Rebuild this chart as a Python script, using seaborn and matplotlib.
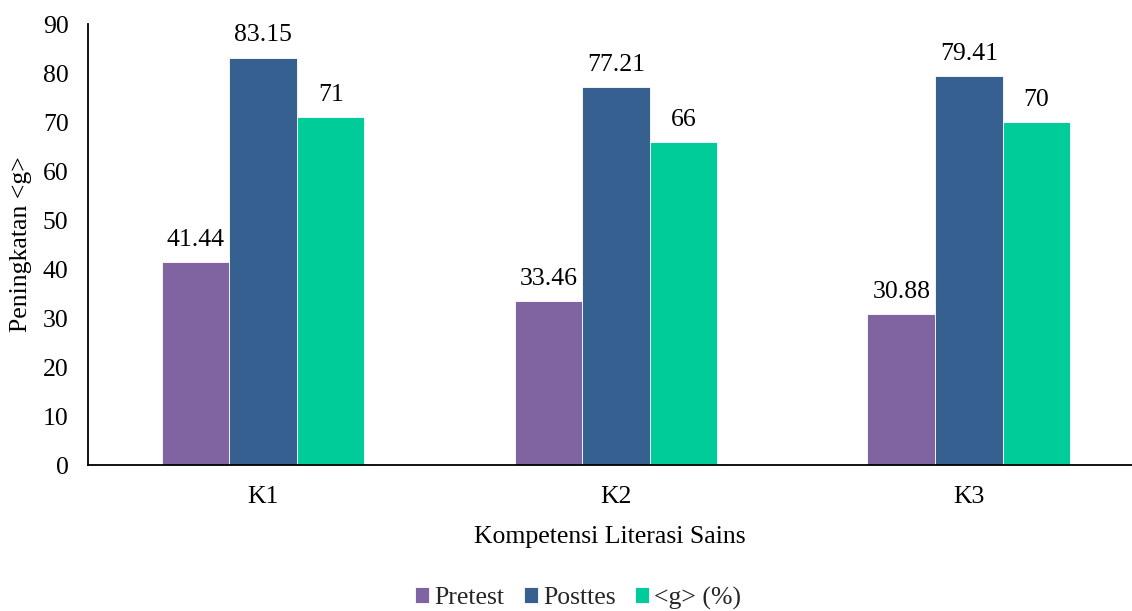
"""Peningkatan kompetensi literasi sains: pretest, posttes and n-gain per competency."""

import matplotlib

matplotlib.use("Agg")
import matplotlib.pyplot as plt
import pandas as pd
import seaborn as sns


CATEGORIES = ["K1", "K2", "K3"]
SERIES = ["Pretest", "Posttes", "<g> (%)"]
PRETEST = [41.44, 33.46, 30.88]
POSTTES = [83.15, 77.21, 79.41]
GAIN = [71, 66, 70]
COLORS = ["#8064A2", "#35608F", "#00CC99"]
LABEL_FMT = ["{:.2f}", "{:.2f}", "{:g}"]

FS = 18.5


def build_frame() -> pd.DataFrame:
    rows = []
    for name, values in zip(SERIES, [PRETEST, POSTTES, GAIN]):
        for cat, val in zip(CATEGORIES, values):
            rows.append({"kompetensi": cat, "seri": name, "nilai": val})
    return pd.DataFrame(rows)


def main() -> None:
    df = build_frame()
    sns.set_theme(style="white")
    plt.rcParams["font.family"] = ["Liberation Serif", "DejaVu Serif"]

    fig = plt.figure(figsize=(11.32, 6.11), dpi=100)
    ax = fig.add_axes([0.0777, 0.2389, 1 - 0.0777, 0.9607 - 0.2389])
    sns.barplot(
        data=df,
        x="kompetensi",
        y="nilai",
        hue="seri",
        order=CATEGORIES,
        hue_order=SERIES,
        palette=COLORS,
        saturation=1,
        width=0.575,
        edgecolor="white",
        linewidth=0.6,
        ax=ax,
    )

    for container, fmt in zip(ax.containers, LABEL_FMT):
        ax.bar_label(
            container,
            labels=[fmt.format(v) for v in container.datavalues],
            padding=8,
            fontsize=FS,
            color="black",
        )

    ax.set_xlim(-0.496, 2.462)
    ax.set_ylim(0, 90)
    ax.set_yticks(range(0, 91, 10))
    ax.tick_params(axis="both", length=0, labelsize=FS, colors="black")
    ax.tick_params(axis="y", pad=14)
    ax.tick_params(axis="x", pad=15)
    ax.set_xlabel("Kompetensi Literasi Sains", fontsize=FS, labelpad=13, color="black")
    ax.set_ylabel("Peningkatan <g>", fontsize=FS, labelpad=8, color="black")

    for side in ["top", "right"]:
        ax.spines[side].set_visible(False)
    for side in ["left", "bottom"]:
        ax.spines[side].set_color("black")
        ax.spines[side].set_linewidth(1.3)

    ax.legend(
        loc="center",
        bbox_to_anchor=(578 / 1132, 1 - 598 / 611),
        bbox_transform=fig.transFigure,
        ncol=3,
        frameon=False,
        fontsize=FS,
        handlelength=0.55,
        handleheight=0.55,
        handletextpad=0.2,
        columnspacing=0.75,
        borderaxespad=0,
    )

    fig.savefig("out.png")
    plt.close(fig)


if __name__ == "__main__":
    main()
